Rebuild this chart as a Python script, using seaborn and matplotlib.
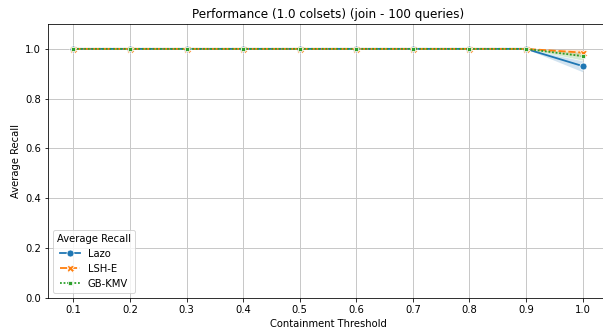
import matplotlib
matplotlib.use("Agg")
import matplotlib.pyplot as plt
import numpy as np
import pandas as pd
import seaborn as sns

thresholds = [0.1, 0.2, 0.3, 0.4, 0.5, 0.6, 0.7, 0.8, 0.9, 1.0]
methods = ["Lazo", "LSH-E", "GB-KMV"]

lazo_mean = [1.0, 1.0, 1.0, 1.0, 1.0, 1.0, 1.0, 1.0, 1.0, 0.931]
lshe_mean = [1.0, 1.0, 1.0, 1.0, 1.0, 1.0, 1.0, 1.0, 1.0, 0.985]
gbkmv_mean = [1.0, 1.0, 1.0, 1.0, 1.0, 1.0, 1.0, 1.0, 1.0, 0.971]

# 95% confidence interval bounds over the 100 queries
lazo_lo = [1.0, 1.0, 1.0, 1.0, 1.0, 1.0, 1.0, 1.0, 1.0, 0.908]
lazo_hi = [1.0, 1.0, 1.0, 1.0, 1.0, 1.0, 1.0, 1.0, 1.0, 0.952]
lshe_lo = [1.0, 1.0, 1.0, 1.0, 1.0, 1.0, 1.0, 1.0, 1.0, 0.968]
lshe_hi = [1.0, 1.0, 1.0, 1.0, 1.0, 1.0, 1.0, 1.0, 1.0, 0.998]
gbkmv_lo = [1.0, 1.0, 1.0, 1.0, 1.0, 1.0, 1.0, 1.0, 1.0, 0.955]
gbkmv_hi = [1.0, 1.0, 1.0, 1.0, 1.0, 1.0, 1.0, 1.0, 1.0, 0.986]

means = {"Lazo": lazo_mean, "LSH-E": lshe_mean, "GB-KMV": gbkmv_mean}
bands = {"Lazo": (lazo_lo, lazo_hi), "LSH-E": (lshe_lo, lshe_hi),
         "GB-KMV": (gbkmv_lo, gbkmv_hi)}

df = pd.DataFrame({
    "Containment Threshold": thresholds * len(methods),
    "Average Recall": sum((means[m] for m in methods), []),
    "Method": sum(([m] * len(thresholds) for m in methods), []),
})

fig = plt.figure(figsize=(603 / 72, 333 / 72), dpi=72)
ax = fig.add_axes([0.0796, 0.106, 0.9287, 0.822])

palette = sns.color_palette("tab10", 3)
sns.lineplot(data=df, x="Containment Threshold", y="Average Recall",
             hue="Method", style="Method", markers=True, dashes=True,
             palette=palette, errorbar=None, linewidth=1.8, markersize=7,
             ax=ax)

for color, m in zip(palette, methods):
    lo, hi = bands[m]
    ax.fill_between(thresholds, lo, hi, color=color, alpha=0.2, linewidth=0)

ax.set_ylim(0, 1.1)
ax.set_xticks(thresholds)
ax.set_xticklabels([f"{t:.1f}" for t in thresholds])
ax.set_yticks([0.0, 0.2, 0.4, 0.6, 0.8, 1.0])
ax.set_yticklabels(["0.0", "0.2", "0.4", "0.6", "0.8", "1.0"])
ax.grid(True, color="#c8c8c8", linewidth=1.0)
ax.set_axisbelow(True)
ax.set_xlabel("Containment Threshold")
ax.set_ylabel("Average Recall")
ax.set_title("Performance (1.0 colsets) (join - 100 queries)")
ax.legend(title="Average Recall", loc="lower left")

fig.savefig("out.png", dpi=72)
